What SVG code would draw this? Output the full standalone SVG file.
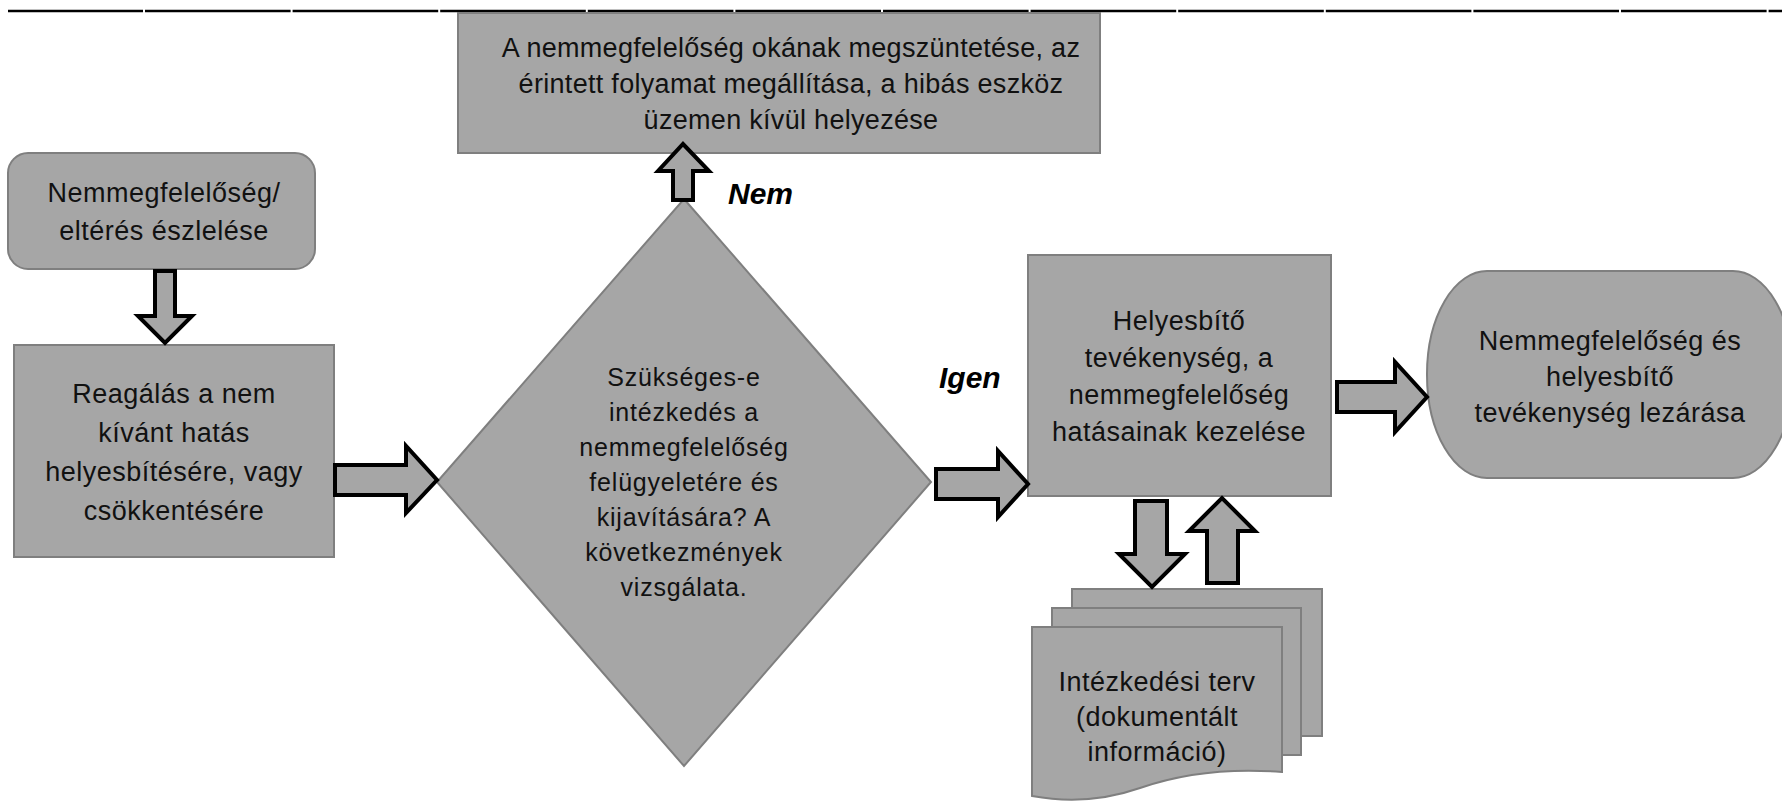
<svg xmlns="http://www.w3.org/2000/svg" width="1782" height="803" viewBox="0 0 1782 803">
  <style>
    .box { fill: #a6a6a6; stroke: #7f7f7f; stroke-width: 2; }
    .arr { fill: #a6a6a6; stroke: #000000; stroke-width: 4; stroke-linejoin: miter; }
    .t { font-family: "Liberation Sans", Arial, sans-serif; font-size: 27px; fill: #111111; text-anchor: middle; letter-spacing: 0.5px; }
    .tt { font-family: "Liberation Sans", Arial, sans-serif; font-size: 27px; fill: #111111; text-anchor: middle; letter-spacing: 0.3px; }
    .td { font-family: "Liberation Sans", Arial, sans-serif; font-size: 25px; fill: #111111; text-anchor: middle; letter-spacing: 0.8px; }
    .lbl { font-family: "Liberation Sans", Arial, sans-serif; font-size: 30px; font-weight: bold; font-style: italic; fill: #000000; }
  </style>
  <rect x="0" y="0" width="1782" height="803" fill="#ffffff"/>
  <line x1="8" y1="11" x2="1782" y2="11" stroke="#000000" stroke-width="2.5" stroke-dasharray="145.6 2" stroke-dashoffset="10.6"/>

  <g id="node-top">
    <rect class="box" x="458" y="13" width="642" height="140"/>
    <text class="tt" x="791" y="57">A nemmegfelelőség okának megszüntetése, az</text>
    <text class="tt" x="791" y="93">érintett folyamat megállítása, a hibás eszköz</text>
    <text class="tt" x="791" y="129">üzemen kívül helyezése</text>
  </g>

  <g id="node-start">
    <rect class="box" x="8" y="153" width="307" height="116" rx="20" ry="20"/>
    <text class="t" x="164" y="202">Nemmegfelelőség/</text>
    <text class="t" x="164" y="240">eltérés észlelése</text>
  </g>

  <g id="node-reagalas">
    <rect class="box" x="14" y="345" width="320" height="212"/>
    <text class="t" x="174" y="403">Reagálás a nem</text>
    <text class="t" x="174" y="442">kívánt hatás</text>
    <text class="t" x="174" y="481">helyesbítésére, vagy</text>
    <text class="t" x="174" y="520">csökkentésére</text>
  </g>

  <g id="node-decision">
    <polygon class="box" points="684,199 931,482 684,766 437,482"/>
    <text class="td" x="684" y="386">Szükséges-e</text>
    <text class="td" x="684" y="421">intézkedés a</text>
    <text class="td" x="684" y="456">nemmegfelelőség</text>
    <text class="td" x="684" y="491">felügyeletére és</text>
    <text class="td" x="684" y="526">kijavítására? A</text>
    <text class="td" x="684" y="561">következmények</text>
    <text class="td" x="684" y="596">vizsgálata.</text>
  </g>

  <g id="node-helyesbito">
    <rect class="box" x="1028" y="255" width="303" height="241"/>
    <text class="t" x="1179" y="330">Helyesbítő</text>
    <text class="t" x="1179" y="367">tevékenység, a</text>
    <text class="t" x="1179" y="404">nemmegfelelőség</text>
    <text class="t" x="1179" y="441">hatásainak kezelése</text>
  </g>

  <g id="node-end">
    <rect class="box" x="1427" y="271" width="366" height="207" rx="60" ry="103"/>
    <text class="t" x="1610" y="350">Nemmegfelelőség és</text>
    <text class="t" x="1610" y="386">helyesbítő</text>
    <text class="t" x="1610" y="422">tevékenység lezárása</text>
  </g>

  <g id="node-document">
    <rect class="box" x="1072" y="589" width="250" height="147"/>
    <rect class="box" x="1052" y="608" width="249" height="147"/>
    <path class="box" d="M1032,627 H1282 V772 C1230,768 1180,774 1140,788 C1100,802 1065,802 1032,796 Z"/>
    <text class="t" x="1157" y="691">Intézkedési terv</text>
    <text class="t" x="1157" y="726">(dokumentált</text>
    <text class="t" x="1157" y="761">információ)</text>
  </g>

  <g id="connectors">
    <polygon class="arr" points="155,271 175,271 175,316 192,316 165,343 138,316 155,316"/>
    <polygon class="arr" points="335,465 406,465 406,446 437,480 406,513 406,495 335,495"/>
    <polygon class="arr" points="673,200 673,171 658,171 683,144 709,171 693,171 693,200"/>
    <polygon class="arr" points="936,469 998,469 998,451 1028,484 998,517 998,499 936,499"/>
    <polygon class="arr" points="1337,382 1395,382 1395,362 1427,397 1395,432 1395,412 1337,412"/>
    <polygon class="arr" points="1135,501 1167,501 1167,554 1185,554 1152,587 1119,554 1135,554"/>
    <polygon class="arr" points="1207,583 1207,531 1189,531 1222,498 1255,531 1238,531 1238,583"/>
    <text class="lbl" x="728" y="204">Nem</text>
    <text class="lbl" x="939" y="388">Igen</text>
  </g>
</svg>
